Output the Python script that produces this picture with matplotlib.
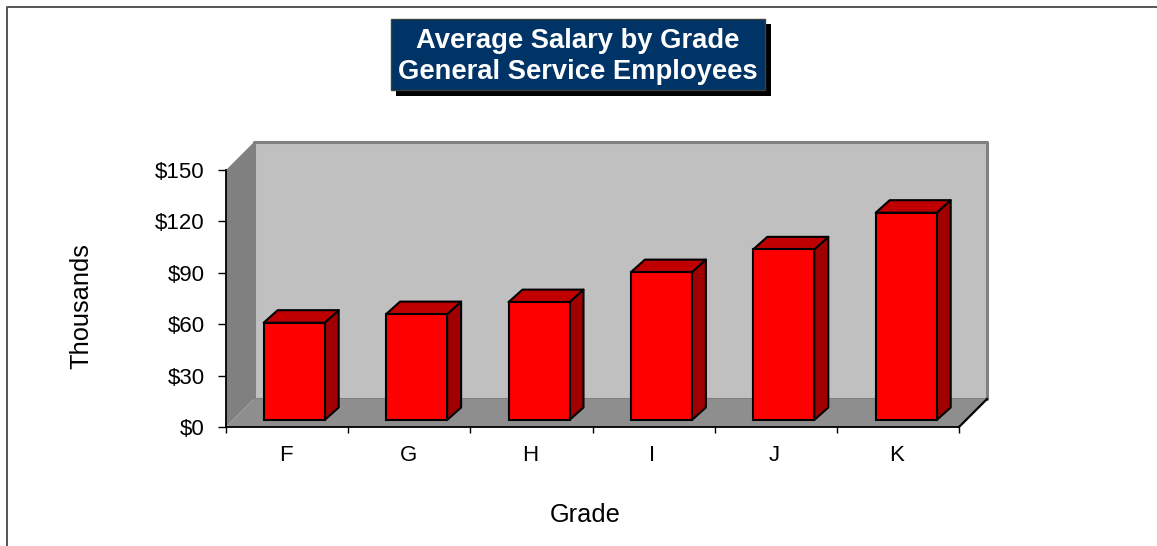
import matplotlib
matplotlib.use("Agg")
import matplotlib.pyplot as plt
from matplotlib.patches import Polygon, Rectangle

plt.rcParams['font.family'] = ['Liberation Sans', 'DejaVu Sans']

grades = ["F", "G", "H", "I", "J", "K"]
salaries = [56.8, 61.8, 68.8, 86.3, 99.6, 121]
y_ticks = [0, 30, 60, 90, 120, 150]
y_tick_labels = ["$0", "$30", "$60", "$90", "$120", "$150"]
title_lines = ["Average Salary by Grade", "General Service Employees"]

W, H = 1157, 546
fig = plt.figure(figsize=(W / 100, H / 100), dpi=100)

# axes box in pixels, measured off the front edge of the floor
left, right, top, bottom = 226, 959, 170, 427
ax = fig.add_axes([left / W, 1 - bottom / H, (right - left) / W, (bottom - top) / H])
ax.set_xlim(0, len(grades))
ax.set_ylim(0, 150)
ax.patch.set_visible(False)

# depth of the fake 3d box, in data units
px_x = len(grades) / (right - left)
px_y = 150 / (bottom - top)
dx = 28 * px_x
dy = 28 * px_y


def poly(pts, fc, ec="none", lw=0, z=1):
    ax.add_patch(Polygon(pts, closed=True, fc=fc, ec=ec, lw=lw, zorder=z, clip_on=False, joinstyle="round"))


n = len(grades)
# back wall, side wall, floor
poly([(dx, dy), (n + dx, dy), (n + dx, 150 + dy), (dx, 150 + dy)], "#c0c0c0", "#808080", 2.2, 1)
poly([(0, 0), (dx, dy), (dx, 150 + dy), (0, 150)], "#808080", z=2)
poly([(0, 0), (n, 0), (n + dx, dy), (dx, dy)], "#8e8e8e", z=2)
ax.plot([n, n + dx], [0, dy], color="black", lw=1.6, clip_on=False, zorder=3)

# bars sit a quarter of the way into the floor
off_x = 7 * px_x
off_y = 7 * px_y
bar_w = 61 * px_x
bar_dx = 14 * px_x
bar_dy = 12.5 * px_y
bar_step = 122.4 * px_x
centers = [(i + 0.5) * bar_step + off_x for i in range(n)]
for c, v in zip(centers, salaries):
    x0 = c - bar_w / 2
    x1 = c + bar_w / 2
    y0 = off_y
    y1 = off_y + v
    poly([(x1, y0), (x1 + bar_dx, y0 + bar_dy), (x1 + bar_dx, y1 + bar_dy), (x1, y1)], "#a00000", "black", 1.5, 4)
    poly([(x0, y1), (x1, y1), (x1 + bar_dx, y1 + bar_dy), (x0 + bar_dx, y1 + bar_dy)], "#c00000", "black", 1.5, 4)
ax.bar(centers, salaries, width=bar_w, bottom=off_y, color="#ff0000", edgecolor="black", linewidth=1.5, zorder=5, clip_on=False)

for s in ["top", "right"]:
    ax.spines[s].set_visible(False)
for s in ["left", "bottom"]:
    ax.spines[s].set_linewidth(1.3)
    ax.spines[s].set_zorder(6)

ax.set_yticks(y_ticks)
ax.set_yticklabels(y_tick_labels, fontsize=16)
ax.set_xticks(range(n + 1))
ax.set_xticklabels([])
ax.set_xticks([i + 0.49 for i in range(n)], minor=True)
ax.set_xticklabels(grades, minor=True, fontsize=16)
ax.tick_params(axis="y", length=5.8, width=1, pad=9.4)
ax.tick_params(axis="x", which="major", length=4.3, width=1)
ax.tick_params(axis="x", which="minor", length=0, pad=13.2)

fig.text(81.5 / W, 1 - 306 / H, "Thousands", rotation=90, ha="center", va="center", fontsize=18.3)
fig.text(585.5 / W, 1 - 514.5 / H, "Grade", ha="center", va="center", fontsize=18.3)

# title box with hard shadow
fig.add_artist(Rectangle((396 / W, 1 - 96 / H), 375 / W, 72 / H, transform=fig.transFigure, fc="black", ec="none"))
fig.add_artist(Rectangle((391 / W, 1 - 90 / H), 374 / W, 71 / H, transform=fig.transFigure, fc="#003366", ec="#404040", lw=1))
fig.text(578 / W, 1 - 40.5 / H, title_lines[0], color="white", fontweight="bold", ha="center", va="center", fontsize=19.7)
fig.text(578 / W, 1 - 72 / H, title_lines[1], color="white", fontweight="bold", ha="center", va="center", fontsize=19.7)

# chart frame, open to the right and the bottom
fig.add_artist(plt.Line2D([6.5 / W, 6.5 / W, 1], [0, 1 - 7 / H, 1 - 7 / H], color="#555555", lw=1.4))

fig.savefig("out.png", dpi=100)
